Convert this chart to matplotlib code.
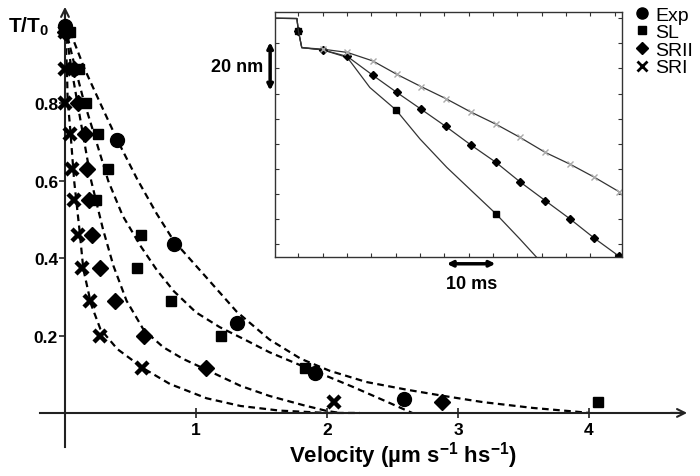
import matplotlib
matplotlib.use("Agg")
import matplotlib.pyplot as plt
from matplotlib.lines import Line2D

plt.rcParams["font.family"] = ["Liberation Sans", "DejaVu Sans"]
plt.rcParams["mathtext.fontset"] = "custom"
plt.rcParams["mathtext.rm"] = "Liberation Sans:bold"
plt.rcParams["mathtext.bf"] = "Liberation Sans:bold"
plt.rcParams["mathtext.default"] = "rm"

# ---- main panel: T/T0 against velocity ----
exp_x = [0.0, 0.40, 0.83, 1.31, 1.91, 2.59]
exp_y = [1.0, 0.705, 0.437, 0.233, 0.103, 0.036]

levels = [0.985, 0.89, 0.80, 0.72, 0.63, 0.55, 0.46, 0.375, 0.29, 0.20, 0.115, 0.028]
sl_x = [0.04, 0.11, 0.16, 0.25, 0.33, 0.24, 0.58, 0.55, 0.81, 1.19, 1.83, 4.07]
srii_x = [0.0, 0.07, 0.10, 0.15, 0.17, 0.18, 0.21, 0.27, 0.38, 0.60, 1.08, 2.88]
sri_x = [0.0, 0.0, 0.0, 0.04, 0.05, 0.07, 0.10, 0.13, 0.19, 0.27, 0.59, 2.05]

# dashed fit curves
exp_fit_x = [0.04, 0.15, 0.27, 0.40, 0.55, 0.70, 0.83, 1.08, 1.31, 1.56, 1.80, 2.02,
             2.30, 2.61, 2.89, 3.19, 3.57, 3.91, 4.0]
exp_fit_y = [0.985, 0.889, 0.80, 0.705, 0.605, 0.515, 0.445, 0.35, 0.262, 0.19, 0.14, 0.109,
             0.08, 0.060, 0.044, 0.028, 0.013, 0.003, 0.0]
sl_fit_x = [0.0, 0.08, 0.14, 0.21, 0.33, 0.44, 0.58, 0.70, 0.83, 1.0, 1.18, 1.37, 1.56,
            1.82, 2.0, 2.2, 2.45, 2.65]
sl_fit_y = [1.0, 0.889, 0.811, 0.734, 0.60, 0.51, 0.43, 0.37, 0.315, 0.26, 0.222, 0.19,
            0.157, 0.12, 0.095, 0.067, 0.03, 0.0]
srii_fit_x = [0.0, 0.05, 0.09, 0.13, 0.20, 0.29, 0.37, 0.47, 0.60, 0.75, 0.90, 1.09, 1.34,
              1.56, 1.82, 2.0, 2.1]
srii_fit_y = [1.0, 0.889, 0.811, 0.734, 0.60, 0.475, 0.38, 0.29, 0.215, 0.17, 0.14, 0.11,
              0.07, 0.044, 0.02, 0.005, 0.0]
sri_fit_x = [0.0, 0.015, 0.02, 0.04, 0.07, 0.11, 0.14, 0.20, 0.27, 0.40, 0.60, 0.80, 1.08,
             1.34, 1.64, 2.0, 2.25]
sri_fit_y = [1.0, 0.889, 0.811, 0.734, 0.60, 0.475, 0.372, 0.28, 0.217, 0.165, 0.115, 0.075,
             0.038, 0.018, 0.006, 0.0, 0.0]

# ---- inset: position (nm) against time (ms) ----
ins_sl_x = [0.2, 4.7, 5.0, 5.7, 10.0, 15.06, 19.7, 25.06, 30.0, 35.5, 40.9, 45.6, 50.5, 53.9]
ins_sl_y = [0, -0.1, -5.0, -11.7, -12.6, -15.6, -27.6, -36.5, -48.1, -59.4, -69.3, -77.9, -87.9, -95.1]
ins_t = [0.2, 4.7, 5.0, 5.7, 10.0, 15.06, 20.3, 25.2, 30.2, 35.3, 40.4, 45.6, 50.5, 55.7, 60.8, 65.8, 70.9]
ins_srii_y = [0, -0.1, -5.0, -11.7, -12.6, -15.2, -22.7, -29.5, -36.2, -43.1, -50.4, -57.4, -65.1, -72.6, -79.9, -87.6, -94.8]
ins_sri_y = [0, -0.1, -5.0, -11.7, -12.3, -13.6, -17.0, -22.3, -27.2, -32.0, -37.3, -42.2, -47.4, -53.4, -58.1, -63.3, -69.1]

fig = plt.figure(figsize=(7, 4.77), dpi=100)
ax = fig.add_axes([0, 0, 1, 1])
ax.set_xlim(-0.496, 4.847)
ax.set_ylim(-0.163, 1.070)
ax.patch.set_alpha(0)

dash = (0, (3, 2))
for fx, fy in [(exp_fit_x, exp_fit_y), (sl_fit_x, sl_fit_y),
               (srii_fit_x, srii_fit_y), (sri_fit_x, sri_fit_y)]:
    ax.plot(fx, fy, color="black", lw=1.6, ls=dash, zorder=2)

ax.plot(sri_x, levels, ls="none", marker="x", ms=9, mew=3.2, color="black", zorder=3)
ax.plot(srii_x, levels, ls="none", marker="D", ms=8.5, color="black", zorder=4)
ax.plot(sl_x, levels, ls="none", marker="s", ms=7.5, color="black", zorder=5)
ax.plot(exp_x, exp_y, ls="none", marker="o", ms=10, color="black", zorder=6)

for s in ["top", "right"]:
    ax.spines[s].set_visible(False)
ax.spines["left"].set_position(("data", 0))
ax.spines["bottom"].set_position(("data", 0))
ax.spines["left"].set_bounds(-0.088, 1.03)
ax.spines["bottom"].set_bounds(-0.19, 4.7)
for s in ["left", "bottom"]:
    ax.spines[s].set_linewidth(1.5)
    ax.spines[s].set_color("#222222")
ax.annotate("", xy=(4.77, 0), xytext=(4.6, 0),
            arrowprops=dict(arrowstyle="->", lw=1.5, color="#222222", mutation_scale=14))
ax.annotate("", xy=(0, 1.057), xytext=(0, 1.0),
            arrowprops=dict(arrowstyle="->", lw=1.5, color="#222222", mutation_scale=14))

ax.set_xticks([1, 2, 3, 4])
ax.set_xticklabels(["1", "2", "3", "4"])
ax.set_yticks([0.2, 0.4, 0.6, 0.8])
ax.set_yticklabels(["0.2", "0.4", "0.6", "0.8"])
ax.tick_params(axis="x", direction="inout", length=7, width=1.2, labelsize=12.5, pad=3, color="#222222")
ax.tick_params(axis="y", direction="out", length=4, width=1.2, labelsize=12.5, pad=1, color="#222222")
for lab in ax.get_xticklabels() + ax.get_yticklabels():
    lab.set_fontweight("bold")

ax.text(-0.28, 1.0, r"T/T$_0$", fontsize=15, fontweight="bold", ha="center", va="center")
ax.text(2.58, -0.108, r"Velocity (µm s$^{-1}$ hs$^{-1}$)", fontsize=16,
        fontweight="bold", ha="center", va="center")

# ---- inset ----
axin = fig.add_axes([275 / 700, 1 - 258 / 477, 347 / 700, 245 / 477])
axin.set_xlim(0.2, 71.5)
axin.set_ylim(-95.1, 2.5)
axin.plot(ins_sl_x, ins_sl_y, color="#333333", lw=0.9, marker="s", ms=5,
          markevery=[2, 7, 11], mfc="black", mec="black")
axin.plot(ins_t, ins_srii_y, color="#333333", lw=0.9, marker="D", ms=4.5,
          markevery=[2] + list(range(4, 17)), mfc="black", mec="black")
axin.plot(ins_t, ins_sri_y, color="#333333", lw=0.9)
axin.plot(ins_t[4:], ins_sri_y[4:], ls="none", marker="x", ms=5, mew=1, color="#aaaaaa")
axin.set_xticks(list(range(5, 71, 5)))
axin.set_yticks(list(range(-90, 1, 10)))
axin.tick_params(direction="in", length=3, width=0.8, top=True, right=True,
                 labelbottom=False, labelleft=False, color="#333333")
for s in axin.spines.values():
    s.set_linewidth(1.0)
    s.set_color("#333333")

axin.annotate("", xy=(35.5, -97.8), xytext=(45.5, -97.8), annotation_clip=False,
              arrowprops=dict(arrowstyle="<->", lw=2.5, color="black", mutation_scale=8,
                              shrinkA=0, shrinkB=0))
axin.text(40.5, -105.8, "10 ms", fontsize=13, fontweight="bold", ha="center", va="center")
axin.annotate("", xy=(-0.8, -9.5), xytext=(-0.8, -28.8), annotation_clip=False,
              arrowprops=dict(arrowstyle="<->", lw=2.5, color="black", mutation_scale=8,
                              shrinkA=0, shrinkB=0))
axin.text(-2.2, -19.1, "20 nm", fontsize=13, fontweight="bold", ha="right", va="center")

handles = [
    Line2D([], [], ls="none", marker="o", ms=8, color="black"),
    Line2D([], [], ls="none", marker="s", ms=6, color="black"),
    Line2D([], [], ls="none", marker="D", ms=6.5, color="black"),
    Line2D([], [], ls="none", marker="x", ms=7, mew=2, color="black"),
]
fig.legend(handles, ["Exp", "SL", "SRII", "SRI"], loc="upper left",
           bbox_to_anchor=(634 / 700, 1 - 7 / 477), frameon=False, fontsize=14,
           handlelength=0.8, handletextpad=0.3, labelspacing=0.0, borderpad=0,
           borderaxespad=0)

fig.savefig("out.png", dpi=100)
